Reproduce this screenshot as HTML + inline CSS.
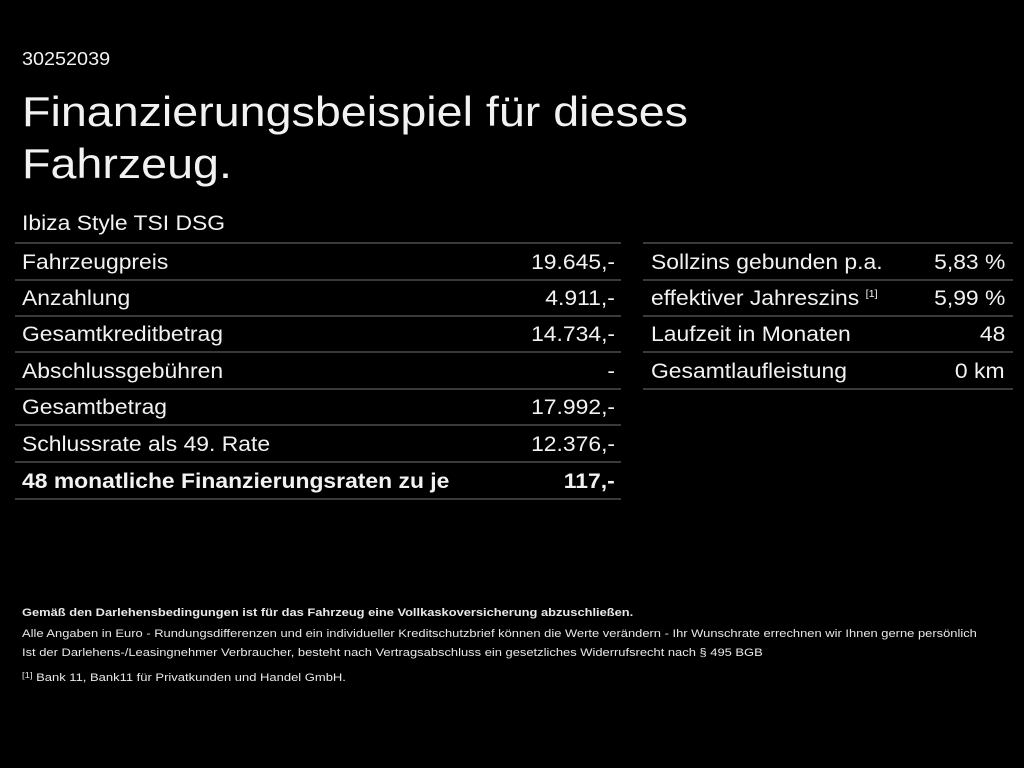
<!DOCTYPE html>
<html><head><meta charset="utf-8"><style>
body{margin:0;width:1024px;height:768px;background:#000;color:#f2f2f2;font-family:"Liberation Sans",sans-serif;position:relative;overflow:hidden}
.a{position:absolute;white-space:nowrap;transform-origin:0 0}
.l{position:absolute;height:2px;background:#3a3a3a}
.r{position:absolute;font-size:21px;line-height:24px;white-space:nowrap;transform:scaleX(1.09);transform-origin:0 0}
.rr{transform-origin:100% 0}
.f{position:absolute;left:22px;font-size:11px;white-space:nowrap;color:#e8e8e8;transform:scaleX(1.175);transform-origin:0 0}
.s{font-size:10px;position:relative;top:-8px}
</style></head><body>
<div class="a" style="left:22px;top:49px;font-size:18px;transform:scaleX(1.1)">30252039</div>
<div class="a" style="left:22px;top:86px;font-size:42px;line-height:52px;transform:scaleX(1.11)">Finanzierungsbeispiel für dieses<br>Fahrzeug.</div>
<div class="r" style="left:22px;top:212px">Ibiza Style TSI DSG</div>

<div class="l" style="left:15px;width:606px;top:242px"></div>
<div class="l" style="left:15px;width:606px;top:279px"></div>
<div class="l" style="left:15px;width:606px;top:315px"></div>
<div class="l" style="left:15px;width:606px;top:351px"></div>
<div class="l" style="left:15px;width:606px;top:388px"></div>
<div class="l" style="left:15px;width:606px;top:424px"></div>
<div class="l" style="left:15px;width:606px;top:461px"></div>
<div class="l" style="left:15px;width:606px;top:498px"></div>

<div class="r" style="left:22px;top:251px">Fahrzeugpreis</div><div class="r rr" style="right:409px;top:251px">19.645,-</div>
<div class="r" style="left:22px;top:287px">Anzahlung</div><div class="r rr" style="right:409px;top:287px">4.911,-</div>
<div class="r" style="left:22px;top:323px">Gesamtkreditbetrag</div><div class="r rr" style="right:409px;top:323px">14.734,-</div>
<div class="r" style="left:22px;top:360px">Abschlussgebühren</div><div class="r rr" style="right:409px;top:360px">-</div>
<div class="r" style="left:22px;top:396px">Gesamtbetrag</div><div class="r rr" style="right:409px;top:396px">17.992,-</div>
<div class="r" style="left:22px;top:433px">Schlussrate als 49. Rate</div><div class="r rr" style="right:409px;top:433px">12.376,-</div>
<div class="r" style="left:22px;top:470px;font-weight:bold">48 monatliche Finanzierungsraten zu je</div><div class="r rr" style="right:409px;top:470px;font-weight:bold">117,-</div>

<div class="l" style="left:643px;width:370px;top:242px"></div>
<div class="l" style="left:643px;width:370px;top:279px"></div>
<div class="l" style="left:643px;width:370px;top:315px"></div>
<div class="l" style="left:643px;width:370px;top:351px"></div>
<div class="l" style="left:643px;width:370px;top:388px"></div>
<div class="r" style="left:651px;top:251px">Sollzins gebunden p.a.</div><div class="r rr" style="right:19px;top:251px">5,83 %</div>
<div class="r" style="left:651px;top:287px">effektiver Jahreszins <span class="s">[1]</span></div><div class="r rr" style="right:19px;top:287px">5,99 %</div>
<div class="r" style="left:651px;top:323px">Laufzeit in Monaten</div><div class="r rr" style="right:19px;top:323px">48</div>
<div class="r" style="left:651px;top:360px">Gesamtlaufleistung</div><div class="r rr" style="right:19px;top:360px">0 km</div>

<div class="f" style="top:607px;font-weight:bold;transform:scaleX(1.17)">Gemäß den Darlehensbedingungen ist für das Fahrzeug eine Vollkaskoversicherung abzuschließen.</div>
<div class="f" style="top:628px">Alle Angaben in Euro - Rundungsdifferenzen und ein individueller Kreditschutzbrief können die Werte verändern - Ihr Wunschrate errechnen wir Ihnen gerne persönlich</div>
<div class="f" style="top:647px">Ist der Darlehens-/Leasingnehmer Verbraucher, besteht nach Vertragsabschluss ein gesetzliches Widerrufsrecht nach § 495 BGB</div>
<div class="f" style="top:672px;transform:scaleX(1.18)"><span style="font-size:8px;position:relative;top:-3px">[1]</span> Bank 11, Bank11 für Privatkunden und Handel GmbH.</div>
</body></html>
